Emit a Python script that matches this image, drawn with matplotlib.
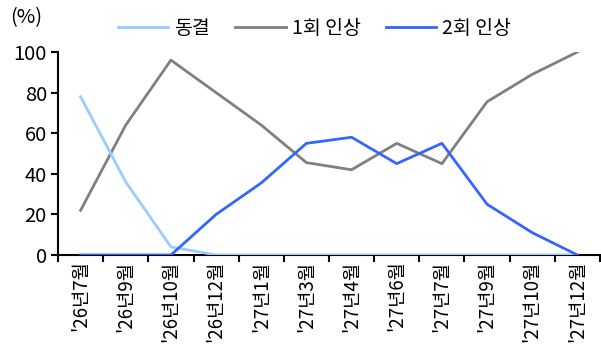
import matplotlib
matplotlib.use("Agg")
import matplotlib.pyplot as plt
import numpy as np

plt.rcParams["font.family"] = ["Noto Sans CJK KR", "DejaVu Sans"]

months = ["'26년7월", "'26년9월", "'26년10월", "'26년12월", "'27년1월", "'27년3월",
          "'27년4월", "'27년6월", "'27년7월", "'27년9월", "'27년10월", "'27년12월"]
freeze = [78, 36, 4, 0, 0, 0, 0, 0, 0, 0, 0, 0]
hike_once = [22, 64, 96, 80, 64, 45.5, 42, 55, 45, 75.5, 89, 100]
hike_twice = [0, 0, 0, 20, 35.5, 55, 58, 45, 55, 25, 11, 0]

fig = plt.figure(figsize=(6.01, 3.52), dpi=100)
ax = fig.add_axes([58 / 601, 97 / 352, 542 / 601, 203 / 352])

x = np.arange(len(months))
ax.plot(x, freeze, color="#99CCFF", lw=2, label="동결", zorder=3)
ax.plot(x, hike_once, color="#808080", lw=2, label="1회 인상", zorder=2)
ax.plot(x, hike_twice, color="#3366FF", lw=2, label="2회 인상", zorder=4)

ax.set_xlim(-0.5, len(months) - 0.5)
ax.set_ylim(0, 100)
ax.set_yticks([0, 20, 40, 60, 80, 100])
ax.set_xticks(np.arange(len(months) + 1) - 0.5)
ax.set_xticklabels([])
ax.set_xticks(x, minor=True)
ax.set_xticklabels(months, minor=True, rotation=90, fontsize=13.5)
ax.tick_params(axis="x", which="minor", length=0, pad=4)
ax.tick_params(axis="x", which="major", length=5, width=1.5, direction="out")
ax.tick_params(axis="y", length=5, width=1.5, labelsize=14.5, pad=3)
for s in ("top", "right"):
    ax.spines[s].set_visible(False)
for s in ("left", "bottom"):
    ax.spines[s].set_linewidth(1.5)

fig.text(10 / 601, 1 - 18 / 352, "(%)", fontsize=14.5, va="center")
ax.legend(loc="center", bbox_to_anchor=(256.5 / 542, 1 + 24 / 203), ncol=3, frameon=False,
          fontsize=14, handlelength=2.6, columnspacing=1.3, handletextpad=0.3)

fig.savefig("out.png", dpi=100)
